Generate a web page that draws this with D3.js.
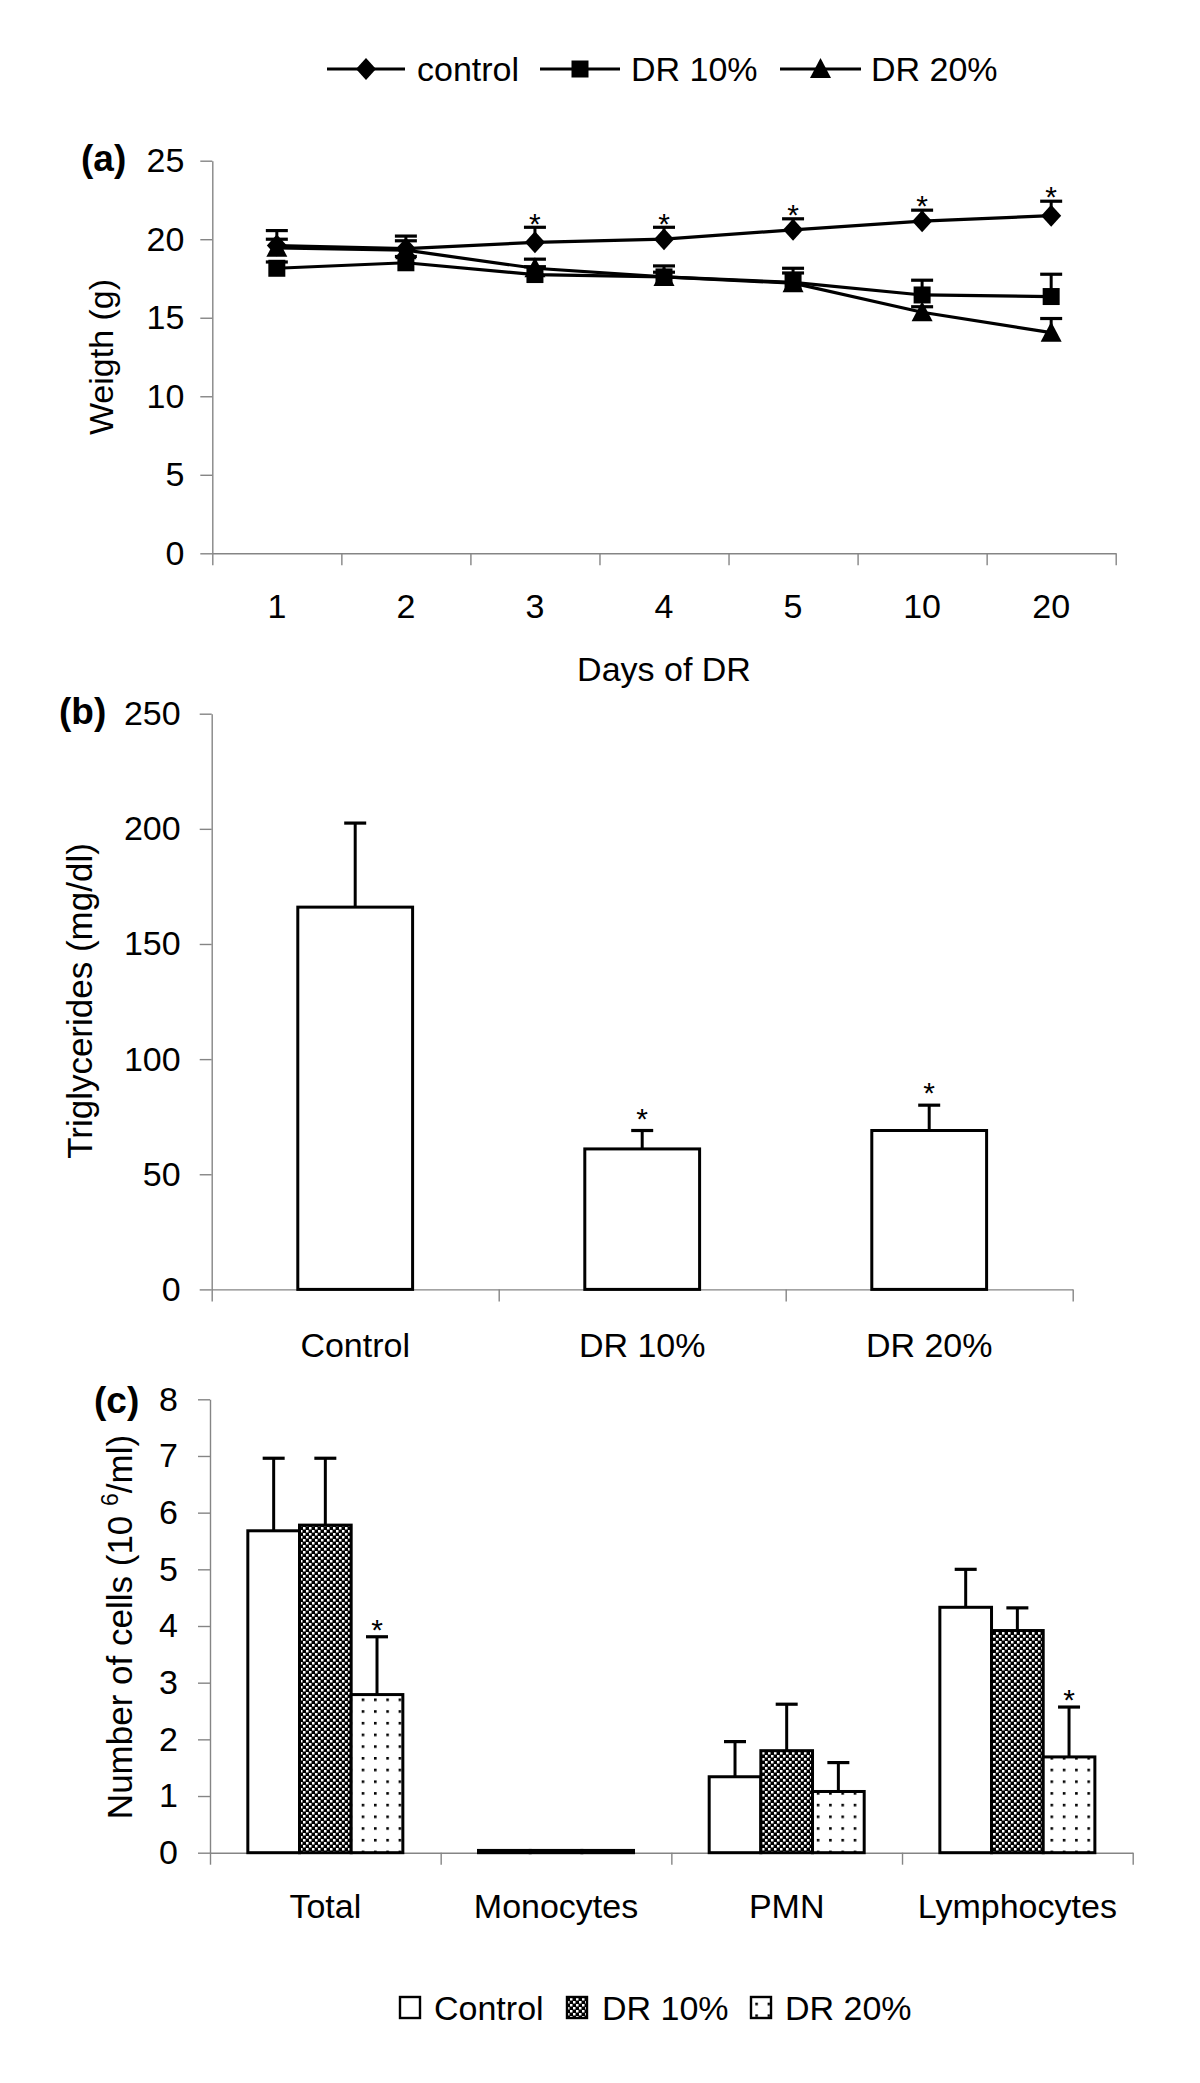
<!DOCTYPE html>
<html>
<head>
<meta charset="utf-8">
<script src="https://cdn.jsdelivr.net/npm/d3@7"></script>
<style>
  html, body { margin: 0; padding: 0; background: #fff; }
  svg { display: block; }
</style>
</head>
<body>
<svg id="chart" width="1200" height="2083"></svg>
<script>
// ---------------- DATA ----------------
// Panel (a): body weight over days of DR
const days = ["1", "2", "3", "4", "5", "10", "20"];
const weightControl    = [19.6, 19.4, 19.8, 20.0, 20.6, 21.15, 21.5];
const weightControlErr = [0.95, 0.8, 0.96, 0.76, 0.7, 0.7, 0.92];
const weightDR10       = [18.15, 18.5, 17.75, 17.6, 17.25, 16.45, 16.35];
const weightDR10Err    = [0.4, 0.4, 0.5, 0.7, 0.6, 0.94, 1.42];
const weightDR20       = [19.45, 19.3, 18.15, 17.6, 17.2, 15.35, 14.05];
const weightDR20Err    = [0.55, 0.6, 0.58, 0.3, 0.95, 0.35, 0.9];
const weightSig        = [false, false, true, true, true, true, true];
const weightTicks      = [0, 5, 10, 15, 20, 25];
const weightSeriesNames = ["control", "DR 10%", "DR 20%"];

// Panel (b): triglycerides
const trigGroups = ["Control", "DR 10%", "DR 20%"];
const trigValues = [166, 61, 69];
const trigErr    = [36.5, 8, 11];
const trigSig    = [false, true, true];
const trigTicks  = [0, 50, 100, 150, 200, 250];

// Panel (c): number of cells
const cellCategories = ["Total", "Monocytes", "PMN", "Lymphocytes"];
const cellSeriesNames = ["Control", "DR 10%", "DR 20%"];
const cellControl    = [5.68, 0.04, 1.34, 4.33];
const cellControlErr = [1.28, 0, 0.62, 0.67];
const cellDR10       = [5.78, 0.04, 1.80, 3.92];
const cellDR10Err    = [1.18, 0, 0.82, 0.40];
const cellDR20       = [2.79, 0.04, 1.08, 1.69];
const cellDR20Err    = [1.02, 0, 0.51, 0.88];
const cellDR20Sig    = [true, false, false, true];
const cellTicks      = [0, 1, 2, 3, 4, 5, 6, 7, 8];

// ---------------- SETUP ----------------
const FONT = "'Liberation Sans', Arial, Helvetica, sans-serif";
const AXIS_COLOR = "#858585";
const svg = d3.select("#chart");
svg.append("rect").attr("width", 1200).attr("height", 2083).attr("fill", "#fff");

const defs = svg.append("defs");
const checker = defs.append("pattern").attr("id", "checker")
  .attr("patternUnits", "userSpaceOnUse").attr("width", 6).attr("height", 6);
checker.append("rect").attr("width", 6).attr("height", 6).attr("fill", "#000");
checker.append("rect").attr("x", 0).attr("y", 0).attr("width", 2.5).attr("height", 2.5).attr("fill", "#fff");
checker.append("rect").attr("x", 3).attr("y", 3).attr("width", 2.5).attr("height", 2.5).attr("fill", "#fff");

const dots = defs.append("pattern").attr("id", "dots")
  .attr("patternUnits", "userSpaceOnUse").attr("width", 12.3).attr("height", 11.7)
  .attr("x", 5).attr("y", 2);
dots.append("rect").attr("width", 12.3).attr("height", 11.7).attr("fill", "#fff");
dots.append("rect").attr("x", 0).attr("y", 0).attr("width", 2.6).attr("height", 2.6).attr("fill", "#000");

function styleAxis(g, size) {
  g.attr("font-family", FONT).attr("font-size", size || 34);
  g.selectAll("path.domain").attr("stroke", AXIS_COLOR).attr("stroke-width", 1.4);
  g.selectAll(".tick line").attr("stroke", AXIS_COLOR).attr("stroke-width", 1.4);
  g.selectAll(".tick text").attr("fill", "#000");
}

function drawYAxis(y, ticks, x0, pad) {
  const g = svg.append("g").attr("transform", `translate(${x0},0)`)
    .call(d3.axisLeft(y).tickValues(ticks).tickSize(12).tickSizeOuter(0).tickPadding(pad).tickFormat(d3.format("d")));
  styleAxis(g);
  return g;
}

function drawXBoundaryAxis(xStart, xEnd, n, yPos) {
  const xl = d3.scaleLinear().domain([0, n]).range([xStart, xEnd]);
  const g = svg.append("g").attr("transform", `translate(0,${yPos})`)
    .call(d3.axisBottom(xl).tickValues(d3.range(0, n + 1)).tickSize(12).tickSizeOuter(0).tickFormat(""));
  styleAxis(g);
  return g;
}

function drawXLabels(band, yPos, baselineOffset) {
  const g = svg.append("g").attr("transform", `translate(0,${yPos})`)
    .call(d3.axisBottom(band).tickSize(0).tickPadding(0));
  styleAxis(g);
  g.select("path.domain").remove();
  g.selectAll(".tick text").attr("dy", null).attr("y", baselineOffset);
  return g;
}

function yTitle(text, x, yc, size) {
  return svg.append("text")
    .attr("transform", `translate(${x},${yc}) rotate(-90)`)
    .attr("text-anchor", "middle")
    .attr("font-family", FONT).attr("font-size", size || 34)
    .text(text);
}

function panelLabel(text, x, y) {
  svg.append("text").attr("x", x).attr("y", y)
    .attr("font-family", FONT).attr("font-size", 37).attr("font-weight", "bold")
    .text(text);
}

function star(x, yCenter, size) {
  svg.append("text").attr("x", x).attr("y", yCenter + 0.575 * size)
    .attr("text-anchor", "middle").attr("font-family", FONT).attr("font-size", size)
    .text("*");
}

function errorBar(x, yTop, yBottom, capW) {
  svg.append("line").attr("x1", x).attr("x2", x).attr("y1", yBottom).attr("y2", yTop)
    .attr("stroke", "#000").attr("stroke-width", 3);
  svg.append("line").attr("x1", x - capW / 2).attr("x2", x + capW / 2).attr("y1", yTop).attr("y2", yTop)
    .attr("stroke", "#000").attr("stroke-width", 3.2);
}

// ---------------- PANEL (a) ----------------
const xA = d3.scaleBand().domain(days).range([212.3, 1115.7]);
const yA = d3.scaleLinear().domain([0, 25]).range([553.3, 160.7]);
const cxA = d => xA(d) + xA.bandwidth() / 2;

drawYAxis(yA, weightTicks, 212.3, 16);
drawXBoundaryAxis(212.3, 1115.7, days.length, 553.3);
drawXLabels(xA, 553.3, 65);

svg.append("text").attr("x", 664).attr("y", 681).attr("text-anchor", "middle")
  .attr("font-family", FONT).attr("font-size", 34).text("Days of DR");
yTitle("Weigth (g)", 113, 357, 34);
panelLabel("(a)", 81, 171);

const diamondPath = (cx, cy, s) => `M${cx},${cy - 11 * s}L${cx + 10 * s},${cy}L${cx},${cy + 11 * s}L${cx - 10 * s},${cy}Z`;
const trianglePath = (cx, cy, s) => `M${cx},${cy - 11 * s}L${cx + 10.5 * s},${cy + 9 * s}L${cx - 10.5 * s},${cy + 9 * s}Z`;
const squarePath = (cx, cy, s) => `M${cx - 8.5 * s},${cy - 8.5 * s}h${17 * s}v${17 * s}h${-17 * s}Z`;

const seriesA = [
  { vals: weightControl, errs: weightControlErr, shape: diamondPath },
  { vals: weightDR10, errs: weightDR10Err, shape: squarePath },
  { vals: weightDR20, errs: weightDR20Err, shape: trianglePath }
];

const lineA = d3.line().x((d, i) => cxA(days[i])).y(d => yA(d));
seriesA.forEach(s => {
  svg.append("path").attr("d", lineA(s.vals)).attr("fill", "none")
    .attr("stroke", "#000").attr("stroke-width", 3.2);
});
seriesA.forEach(s => {
  s.vals.forEach((v, i) => {
    errorBar(cxA(days[i]), yA(v + s.errs[i]), yA(v), 22);
  });
});
seriesA.forEach(s => {
  s.vals.forEach((v, i) => {
    svg.append("path").attr("d", s.shape(cxA(days[i]), yA(v), 1)).attr("fill", "#000");
  });
});
weightSig.forEach((sig, i) => {
  if (sig) star(cxA(days[i]), yA(weightControl[i] + weightControlErr[i]) - 11, 30);
});

// legend (a)
const legA = [
  { x1: 327, x2: 405, shape: diamondPath, tx: 417 },
  { x1: 540, x2: 620, shape: squarePath, tx: 631 },
  { x1: 780, x2: 861, shape: trianglePath, tx: 871 }
];
legA.forEach((l, i) => {
  const ly = 69;
  svg.append("line").attr("x1", l.x1).attr("x2", l.x2).attr("y1", ly).attr("y2", ly)
    .attr("stroke", "#000").attr("stroke-width", 3.2);
  svg.append("path").attr("d", l.shape((l.x1 + l.x2) / 2, ly, 1)).attr("fill", "#000");
  svg.append("text").attr("x", l.tx).attr("y", ly + 12)
    .attr("font-family", FONT).attr("font-size", 34).text(weightSeriesNames[i]);
});

// ---------------- PANEL (b) ----------------
const xB = d3.scaleBand().domain(trigGroups).range([211.7, 1072.7]);
const yB = d3.scaleLinear().domain([0, 250]).range([1289.4, 713.7]);
const barWB = xB.bandwidth() * 0.4;

drawYAxis(yB, trigTicks, 211.7, 19);
drawXBoundaryAxis(211.7, 1072.7, trigGroups.length, 1289.4);
drawXLabels(xB, 1289.4, 68);
yTitle("Triglycerides (mg/dl)", 92, 1001, 35);
panelLabel("(b)", 59, 724);

trigGroups.forEach((g, i) => {
  const cx = xB(g) + xB.bandwidth() / 2;
  svg.append("rect").attr("x", cx - barWB / 2).attr("y", yB(trigValues[i]))
    .attr("width", barWB).attr("height", yB(0) - yB(trigValues[i]))
    .attr("fill", "#fff").attr("stroke", "#000").attr("stroke-width", 3);
  errorBar(cx, yB(trigValues[i] + trigErr[i]), yB(trigValues[i]), 22);
  if (trigSig[i]) star(cx, yB(trigValues[i] + trigErr[i]) - 19, 30);
});

// ---------------- PANEL (c) ----------------
const xC = d3.scaleBand().domain(cellCategories).range([210, 1132.7]);
const xCInner = d3.scaleBand().domain(cellSeriesNames).range([0, xC.bandwidth() * 0.672]);
const yC = d3.scaleLinear().domain([0, 8]).range([1852.7, 1399.3]);

drawYAxis(yC, cellTicks, 210, 20);
drawXBoundaryAxis(210, 1132.7, cellCategories.length, 1852.7);
drawXLabels(xC, 1852.7, 65);
panelLabel("(c)", 94, 1413);

const yTitleC = svg.append("text")
  .attr("transform", `translate(132,1627) rotate(-90)`)
  .attr("text-anchor", "middle")
  .attr("font-family", FONT).attr("font-size", 35);
yTitleC.append("tspan").text("Number of cells (10 ");
yTitleC.append("tspan").attr("font-size", 23).attr("dy", -14).text("6");
yTitleC.append("tspan").attr("dy", 14).text("/ml)");

const cellSeries = [
  { name: cellSeriesNames[0], vals: cellControl, errs: cellControlErr, fill: "#fff" },
  { name: cellSeriesNames[1], vals: cellDR10, errs: cellDR10Err, fill: "url(#checker)" },
  { name: cellSeriesNames[2], vals: cellDR20, errs: cellDR20Err, fill: "url(#dots)" }
];
const groupOffset = (xC.bandwidth() - xCInner.range()[1]) / 2;
cellCategories.forEach((c, ci) => {
  cellSeries.forEach(s => {
    const x = xC(c) + groupOffset + xCInner(s.name);
    const v = s.vals[ci];
    svg.append("rect").attr("x", x).attr("y", yC(v))
      .attr("width", xCInner.bandwidth()).attr("height", yC(0) - yC(v))
      .attr("fill", s.fill).attr("stroke", "#000").attr("stroke-width", 3);
  });
  cellSeries.forEach(s => {
    const x = xC(c) + groupOffset + xCInner(s.name) + xCInner.bandwidth() / 2;
    const v = s.vals[ci], e = s.errs[ci];
    if (e > 0) errorBar(x, yC(v + e), yC(v), 22);
  });
  if (cellDR20Sig[ci]) {
    const x = xC(c) + groupOffset + xCInner(cellSeriesNames[2]) + xCInner.bandwidth() / 2;
    star(x, yC(cellDR20[ci] + cellDR20Err[ci]) - 14, 30);
  }
});

// legend (c)
const legC = [
  { bx: 400, tx: 434, fill: "#fff" },
  { bx: 567, tx: 602, fill: "url(#checker)" },
  { bx: 751, tx: 785, fill: "url(#dots)" }
];
legC.forEach((l, i) => {
  svg.append("rect").attr("x", l.bx).attr("y", 1997).attr("width", 20).attr("height", 21)
    .attr("fill", l.fill).attr("stroke", "#000").attr("stroke-width", 2.4);
  svg.append("text").attr("x", l.tx).attr("y", 2020)
    .attr("font-family", FONT).attr("font-size", 34).text(cellSeriesNames[i]);
});
</script>
</body>
</html>
